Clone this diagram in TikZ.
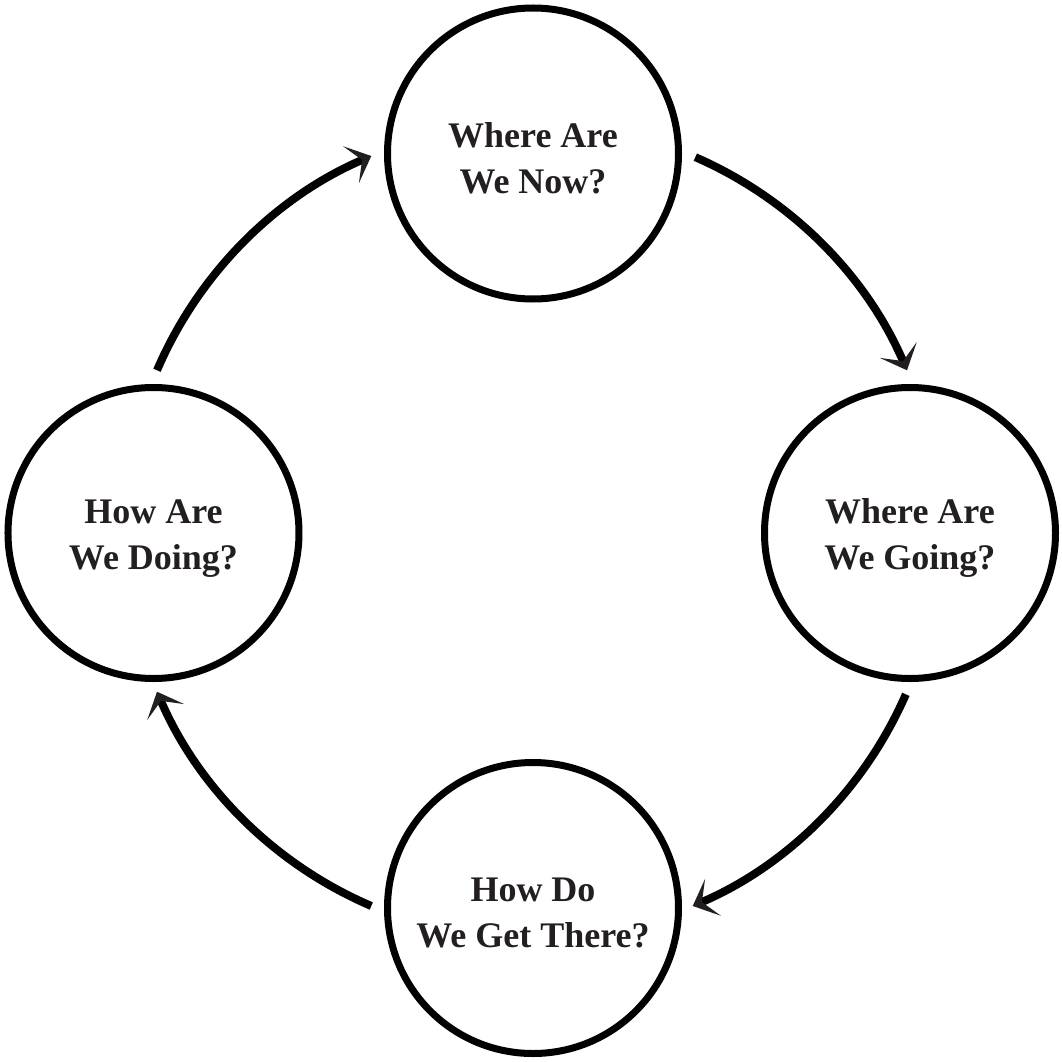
\documentclass[tikz,border=0pt]{standalone}
\usepackage{fontspec}
\setmainfont{Liberation Serif}
\usetikzlibrary{arrows.meta}
\definecolor{ink}{HTML}{231F20}
\begin{document}
\begin{tikzpicture}[x=1pt,y=1pt,
  stage/.style={circle,draw=black,line width=7pt,minimum size=291pt,inner sep=0pt,
    align=center,text=ink,text height=80pt,font=\bfseries\fontsize{36pt}{46pt}\selectfont},
  flow/.style={draw=black,line width=8pt,-{Stealth[length=22pt,width=40pt,inset=12pt,color=ink]}}]
\useasboundingbox (-532,-530) rectangle (530,531);
\node[stage] (now) at (1,377.5) {Where Are\\We Now?};
\node[stage] (going) at (378,-2) {Where Are\\We Going?};
\node[stage] (there) at (1,-377) {How Do\\We Get There?};
\node[stage] (doing) at (-378.5,-2) {How Are\\We Doing?};
\def\R{408}
\coordinate (a1) at (66.4:\R);
\coordinate (a2) at (-23.6:\R);
\coordinate (a3) at (-113.2:\R);
\coordinate (a4) at (156.8:\R);
\draw[flow] (a1) arc[start angle=66.4, end angle=23.2, radius=\R];
\draw[flow] (a2) arc[start angle=-23.6, end angle=-66.8, radius=\R];
\draw[flow] (a3) arc[start angle=-113.2, end angle=-156.8, radius=\R];
\draw[flow] (a4) arc[start angle=156.8, end angle=113.2, radius=\R];
\end{tikzpicture}
\end{document}
